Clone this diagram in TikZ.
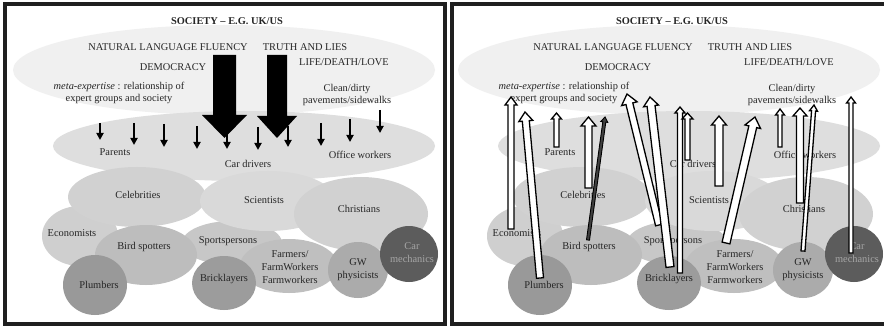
\documentclass[tikz,border=0pt]{standalone}
\usepackage{fontspec}
\setmainfont{Liberation Serif}
\usetikzlibrary{calc,arrows.meta}

\definecolor{topshade}{gray}{0.94}
\definecolor{drivershade}{gray}{0.87}
\definecolor{econshade}{gray}{0.81}
\definecolor{sportshade}{gray}{0.78}
\definecolor{celebshade}{gray}{0.82}
\definecolor{scienceshade}{gray}{0.85}
\definecolor{christshade}{gray}{0.82}
\definecolor{birdshade}{gray}{0.74}
\definecolor{farmshade}{gray}{0.75}
\definecolor{plumbshade}{gray}{0.60}
\definecolor{brickshade}{gray}{0.61}
\definecolor{gwshade}{gray}{0.67}
\definecolor{mechshade}{gray}{0.36}

\tikzset{
  panelframe/.style={draw=black!88, line width=4pt},
  grouptext/.style={inner sep=0pt, align=center, text=black!85,
    font=\fontsize{10.4}{12.8}\selectfont},
  titletext/.style={grouptext, font=\bfseries\fontsize{10.4}{12.8}\selectfont},
  downarrow/.style={line width=1.8pt, -{Triangle[width=7pt,length=7pt]}},
  blockarrow/.style={fill=black, draw=none},
  hollowarrow/.style={fill=white, draw=black, line width=1.3pt},
  darkarrow/.style={fill=black!75, draw=black, line width=0.9pt},
}

\newcommand*{\ArrowShapes}[2]{% #1 = style, #2 = list of tail x/tail y/tip x/tip y/half shaft/half head/head length
\foreach \tx/\ty/\px/\py/\sw/\hw/\hl in {#2} {
\coordinate (arrowtail) at (\tx,\ty);
\coordinate (arrowtip) at (\px,\py);
\coordinate (arrowbase) at ($(arrowtip)!\hl!(arrowtail)$);
\filldraw [#1] ($(arrowtail)!\sw!90:(arrowtip)$) -- ($(arrowbase)!\sw!90:(arrowtip)$)
  -- ($(arrowbase)!\hw!90:(arrowtip)$) -- (arrowtip) -- ($(arrowbase)!\hw!-90:(arrowtip)$)
  -- ($(arrowbase)!\sw!-90:(arrowtip)$) -- ($(arrowtail)!\sw!-90:(arrowtip)$) -- cycle;
}%
}

\newcommand*{\DownArrows}[1]{% #1 = list of x/top/bottom
\foreach \x/\ya/\yb in {#1} {
\draw [downarrow] (\x,\ya) -- (\x,\yb);
}%
}

\newcommand*{\SocietyPanel}{%
% group ellipses, back to front: x/y/x radius/y radius/colour
\foreach \cx/\cy/\rx/\ry/\tone in {224/70/211/45/topshade, 244/146/191/35/drivershade,
  80/236/38/30/econshade, 232/243/50/22/sportshade, 137/197/69/30/celebshade,
  268/201/68/30/scienceshade, 361/214/67/37/christshade, 146/255/51/30/birdshade,
  289/266/49/27/farmshade, 95/285/32/30/plumbshade, 224/283/32/27/brickshade,
  358/270/30/28/gwshade, 409/254/29/28/mechshade} {
\fill [fill=\tone] (\cx,\cy) ellipse [x radius=\rx pt, y radius=\ry pt];
}
\node [titletext] (title) at (227,21) {SOCIETY – E.G. UK/US};
\node [grouptext] (fluency) at (168,47) {NATURAL LANGUAGE FLUENCY};
\node [grouptext] (truth) at (305,47) {TRUTH AND LIES};
\node [grouptext] (democracy) at (173,67) {DEMOCRACY};
\node [grouptext] (life) at (344,62) {LIFE/DEATH/LOVE};
\node [grouptext] (meta) at (119,93) {\textit{meta-expertise} : relationship of\\expert groups and society};
\node [grouptext] (clean) at (347,95) {Clean/dirty\\pavements/sidewalks};
\node [grouptext] (parents) at (115,152) {Parents};
\node [grouptext] (drivers) at (248,164) {Car drivers};
\node [grouptext] (office) at (360,155) {Office workers};
\node [grouptext] (celebrities) at (138,195) {Celebrities};
\node [grouptext] (scientists) at (264,200) {Scientists};
\node [grouptext] (christians) at (359,209) {Christians};
\node [grouptext] (economists) at (72,233) {Economists};
\node [grouptext] (birds) at (144,247) {Bird spotters};
\node [grouptext] (sports) at (228,241) {Sportspersons};
\node [grouptext] (farmers) at (290,267) {Farmers/\\FarmWorkers\\Farmworkers};
\node [grouptext] (plumbers) at (99,285) {Plumbers};
\node [grouptext] (bricklayers) at (224,279) {Bricklayers};
\node [grouptext] (gw) at (358,270) {GW\\physicists};
\node [grouptext, text=black!35] (mechanics) at (412,253) {Car\\mechanics};
}

\begin{document}
\begin{tikzpicture}[x=1pt, y=-1pt]
\useasboundingbox (0,0) rectangle (884,326);
\fill [white] (0,0) rectangle (884,326);

% left panel: society pressing down on the groups
\begin{scope}[name prefix=left-]
\SocietyPanel
\DownArrows{100/123/140, 134/123/145, 164/124/147, 197/126/149, 227/127/149,
  258/127/150, 288/126/147, 321/123/146, 350/119/142, 380/110/133}
\ArrowShapes{blockarrow}{224.5/55/224.5/138/11.5pt/22.5pt/23pt, 277/55/277/138/10pt/20pt/22pt}
\end{scope}

% right panel: the groups pushing up into society
\begin{scope}[xshift=445pt, name prefix=right-]
\SocietyPanel
\ArrowShapes{hollowarrow}{66/229/66/97/3pt/6pt/8pt, 95/278/80/112/3.5pt/7pt/9pt,
  111.5/147/111.5/113/2.5pt/5pt/6pt, 143.5/188/143.5/117/3.5pt/7.5pt/9pt}
\ArrowShapes{darkarrow}{143/240/160/117/1.5pt/3.5pt/5pt}
\ArrowShapes{hollowarrow}{214/225/182/94/3.5pt/8pt/10pt, 225/267/205/97/4pt/7.5pt/9pt,
  235/273/235/107/2.5pt/5pt/6pt, 242.5/160/242.5/113/2.5pt/5.5pt/6pt,
  274/186/274/116/4pt/7.5pt/9pt, 281/243/310/117/4pt/8pt/10pt,
  335/147/335/109/2pt/4.5pt/6pt, 355/203/355/108/3.5pt/7pt/8pt,
  358/251/369/105/2pt/4pt/6pt, 406/253/406/97/2pt/4.5pt/6pt}
\end{scope}

\draw [panelframe] (5,4) rectangle (445,324);
\draw [panelframe] (452,4) rectangle (890,324);
\end{tikzpicture}
\end{document}
